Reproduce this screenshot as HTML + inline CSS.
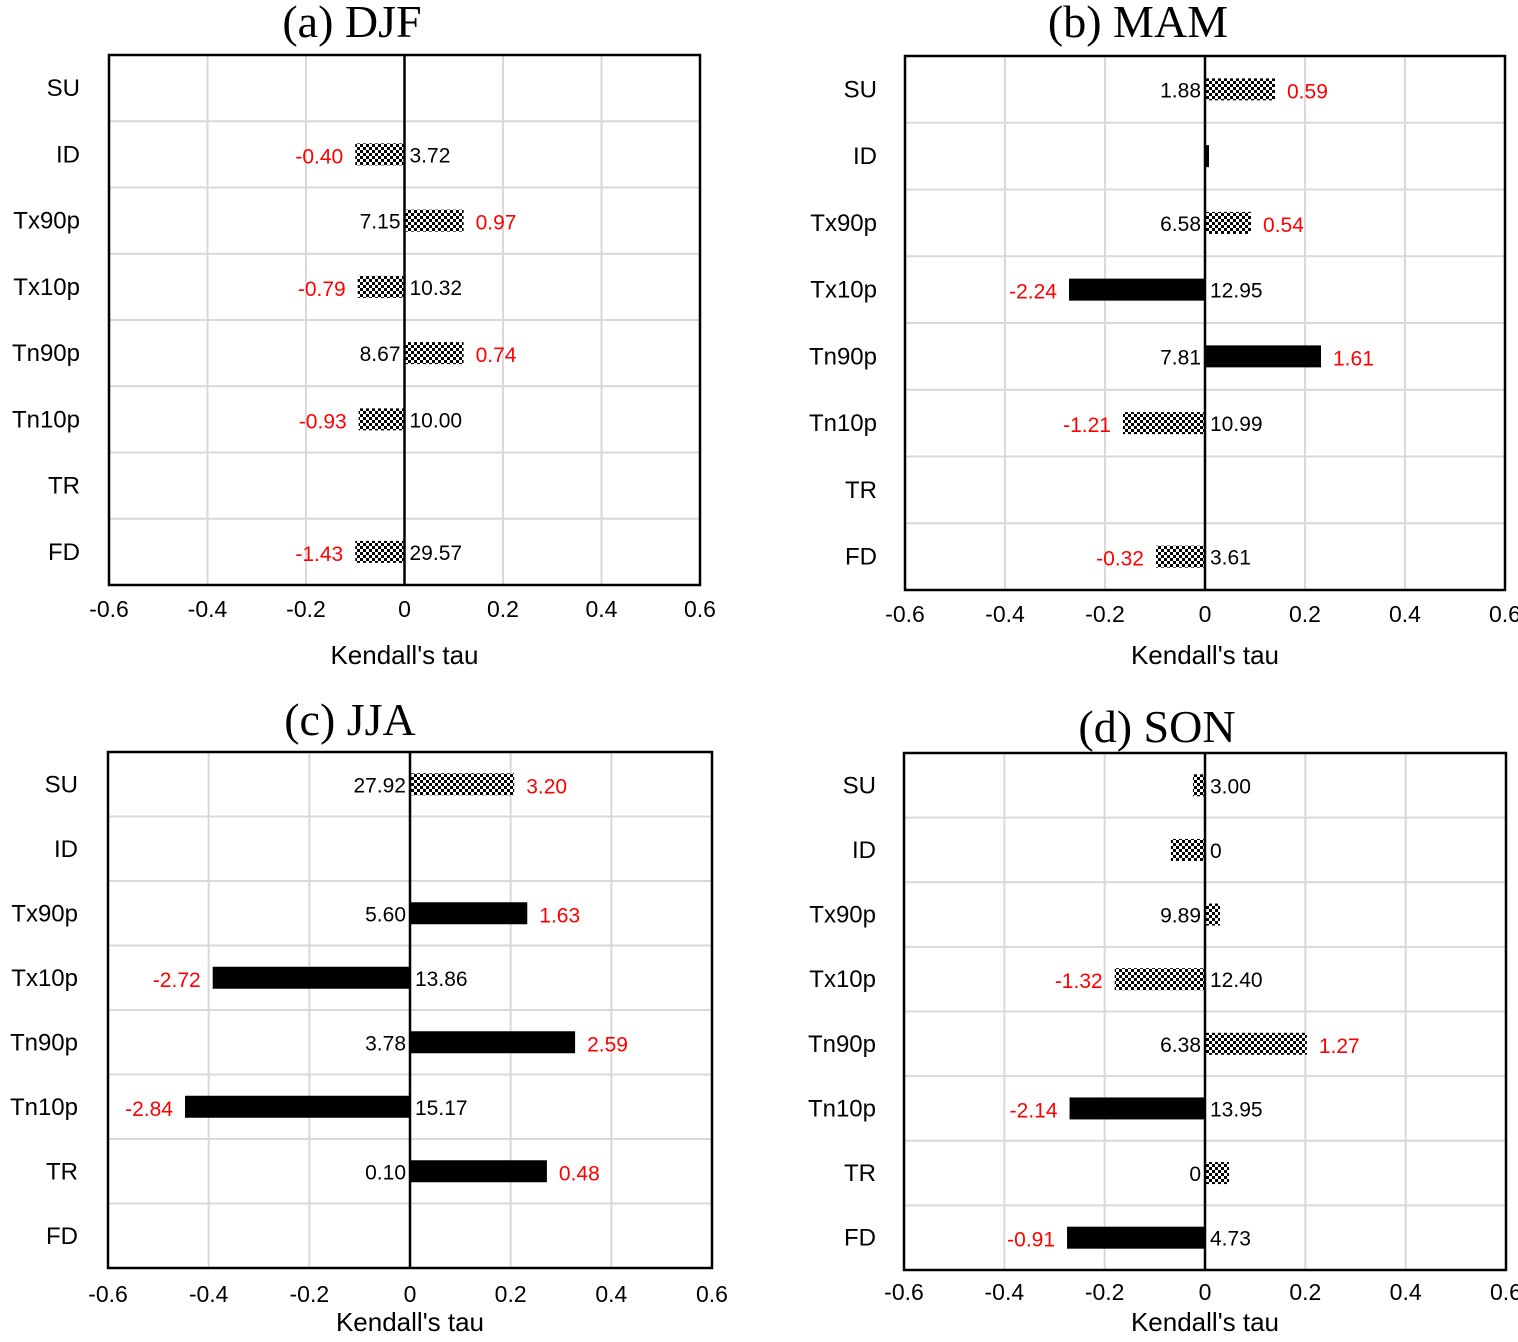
<!DOCTYPE html>
<html><head><meta charset="utf-8"><style>
html,body{margin:0;padding:0;background:#fff;}
svg text{font-family:"Liberation Sans",sans-serif;}
</style></head><body>
<svg id="c" width="1518" height="1337" viewBox="0 0 1518 1337" xmlns="http://www.w3.org/2000/svg">
<defs>
<pattern id="chk" width="6" height="6" patternUnits="userSpaceOnUse">
<rect width="6" height="6" fill="#fff"/><rect width="3" height="3" fill="#000"/><rect x="3" y="3" width="3" height="3" fill="#000"/>
</pattern>
</defs>
</svg>
<script>
const categories=["SU","ID","Tx90p","Tx10p","Tn90p","Tn10p","TR","FD"];
const ticks=[-0.6,-0.4,-0.2,0,0.2,0.4,0.6];
const tickLabels=["-0.6","-0.4","-0.2","0","0.2","0.4","0.6"];
const tauA=[null,-0.10,0.12,-0.095,0.12,-0.093,null,-0.10];
const baseA=["","3.72","7.15","10.32","8.67","10.00","","29.57"];
const trendA=["","-0.40","0.97","-0.79","0.74","-0.93","","-1.43"];
const solidA=[0,0,0,0,0,0,0,0];
const tauB=[0.14,0.008,0.092,-0.272,0.232,-0.164,null,-0.098];
const baseB=["1.88","","6.58","12.95","7.81","10.99","","3.61"];
const trendB=["0.59","","0.54","-2.24","1.61","-1.21","","-0.32"];
const solidB=[0,1,0,1,1,0,0,0];
const tauC=[0.207,null,0.233,-0.392,0.328,-0.447,0.272,null];
const baseC=["27.92","","5.60","13.86","3.78","15.17","0.10",""];
const trendC=["3.20","","1.63","-2.72","2.59","-2.84","0.48",""];
const solidC=[0,0,1,1,1,1,1,0];
const tauD=[-0.024,-0.068,0.03,-0.18,0.203,-0.27,0.048,-0.275];
const baseD=["3.00","0","9.89","12.40","6.38","13.95","0","4.73"];
const trendD=["","","","-1.32","1.27","-2.14","","-0.91"];
const solidD=[0,0,0,0,0,1,0,1];

const svg=document.getElementById('c');
const NS="http://www.w3.org/2000/svg";
function mk(tag,attrs,parent){const e=document.createElementNS(NS,tag);for(const k in attrs)e.setAttribute(k,attrs[k]);(parent||svg).appendChild(e);return e;}
function txt(s,x,y,size,anchor,fill,parent,fam){const t=mk('text',{x:x,y:y,'font-size':size,'text-anchor':anchor,fill:fill},parent);if(fam)t.style.fontFamily=fam;t.textContent=s;return t;}

function panel(id,box,title,titleX,titleY,tickY,axTitleY,catX,tau,base,trend,solid){
  const g=mk('g',{});
  
  
  const [L,T,R,B]=box;
  const xs=v=>L+(v+0.6)/1.2*(R-L);
  const rh=(B-T)/categories.length;
  ticks.forEach(v=>{if(v>-0.6&&v<0.6&&v!==0){const l=mk('line',{x1:xs(v),x2:xs(v),y1:T,y2:B,stroke:'#d9d9d9','stroke-width':2},g);}});
  for(let i=1;i<categories.length;i++){const l=mk('line',{x1:L,x2:R,y1:T+i*rh,y2:T+i*rh,stroke:'#d9d9d9','stroke-width':2},g);}
  const z=xs(0);
  categories.forEach((c,i)=>{
    const cy=T+(i+0.5)*rh;
    const cl=txt(c,catX,cy+8,24,'end','#000',g);
    
    const v=tau[i];
    if(v!==null){
      const x1=Math.min(z,xs(v)),w=Math.abs(xs(v)-z);
      const b=mk('rect',{x:x1,y:cy-11,width:w,height:22,fill:solid[i]?'#000':'url(#chk)'},g);
      
      
    }
    const pos=v===null?true:v>=0;
    if(base[i]){
      const t=txt(base[i],pos?z-4:z+5,cy+8,21,pos?'end':'start','#000',g);
      
    }
    if(trend[i]&&v!==null){
      const e=xs(v);
      const t=txt(trend[i],pos?e+12:e-12,cy+9,21,pos?'start':'end','#ff0000',g);
      
    }
  });
  const zl=mk('line',{x1:z,x2:z,y1:T,y2:B,stroke:'#000','stroke-width':2.5},g);
  
  const fr=mk('rect',{x:L,y:T,width:R-L,height:B-T,fill:'none',stroke:'#000','stroke-width':2.5},g);
  
  ticks.forEach((v,i)=>{const t=txt(tickLabels[i],xs(v),tickY,23,'middle','#000',g);});
  const at=txt("Kendall's tau",(L+R)/2,axTitleY,26,'middle','#000',g);
  
  const tt=txt(title,titleX,titleY,46,'middle','#000',g,'"Liberation Serif",serif');
  
}
panel('a',[109,55,700,585],'(a) DJF',352,37,617,664,80,tauA,baseA,trendA,solidA);
panel('b',[905,56,1505,590],'(b) MAM',1138,37,622,664,877,tauB,baseB,trendB,solidB);
panel('c',[108,752,712,1268],'(c) JJA',350,735,1302,1331,78,tauC,baseC,trendC,solidC);
panel('d',[904,753,1506,1270],'(d) SON',1157,742,1300,1331,876,tauD,baseD,trendD,solidD);
</script>
</body></html>
